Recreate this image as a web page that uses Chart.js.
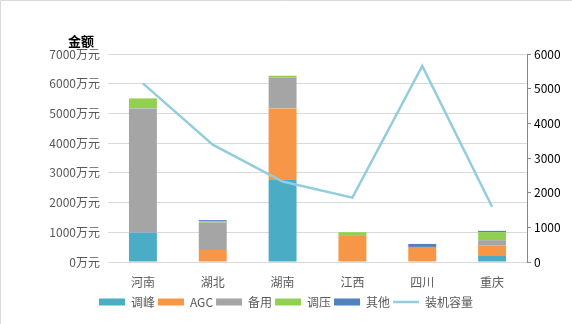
<!DOCTYPE html>
<html>
<head>
<meta charset="utf-8">
<script src="https://cdn.jsdelivr.net/npm/chart.js@4"></script>
<style>
  html, body { margin: 0; padding: 0; background: #fff; }
  #wrap { width: 572px; height: 324px; }
</style>
</head>
<body>
<div id="wrap"><canvas id="myChart1" width="572" height="324"></canvas></div>
<script>
// 지역
const regions = ['河南', '湖北', '湖南', '江西', '四川', '重庆'];

// 금액 (万元) - stacked
const tiaofeng = [990, 0, 2760, 0, 0, 226];
const agc      = [0, 405, 2410, 878, 507, 328];
const beiyong  = [4180, 926, 1043, 0, 0, 179];
const tiaoya   = [335, 34, 57, 125, 0, 270];
const qita     = [0, 44, 0, 0, 101, 44];

// 装机容量 (right axis)
const capacity = [5154, 3385, 2320, 1856, 5655, 1595];

const leftTicks = [0, 1000, 2000, 3000, 4000, 5000, 6000, 7000];
const rightTicks = [0, 1000, 2000, 3000, 4000, 5000, 6000];

const cjk = '"Noto Sans CJK SC", "Noto Sans", sans-serif';

// 배경 + 테두리 + 축 제목
const extras = {
    id: 'extras',
    beforeDraw(chart) {
        const c = chart.ctx;
        c.save();
        c.fillStyle = '#fff';
        c.fillRect(0, 0, chart.width, chart.height);
        c.strokeStyle = '#D9D9D9';
        c.lineWidth = 1;
        c.beginPath();
        c.moveTo(0.5, chart.height);
        c.lineTo(0.5, 0.5);
        c.lineTo(chart.width, 0.5);
        c.stroke();
        c.restore();
    },
    afterDraw(chart) {
        const c = chart.ctx;
        c.save();
        c.fillStyle = '#000';
        c.font = 'bold 13px ' + cjk;
        c.textAlign = 'center';
        c.textBaseline = 'middle';
        c.fillText('金额', 81, 41);
        c.restore();
    }
};

function barSet(label, data, color) {
    return {
        type: 'bar',
        label: label,
        data: data,
        backgroundColor: color,
        borderWidth: 0,
        yAxisID: 'y',
        stack: 's',
        order: 1,
        barPercentage: 0.4,
        categoryPercentage: 1.0
    };
}

const ctx = document.getElementById('myChart1').getContext('2d');

const config = {
    data: {
        labels: regions,
        datasets: [
            barSet('调峰', tiaofeng, '#4BACC6'),
            barSet('AGC', agc, '#F79646'),
            barSet('备用', beiyong, '#A5A5A5'),
            barSet('调压', tiaoya, '#92D050'),
            barSet('其他', qita, '#4F81BD'),
            {
                type: 'line',
                label: '装机容量',
                data: capacity,
                borderColor: '#93CDDD',
                backgroundColor: '#93CDDD',
                borderWidth: 2.5,
                pointRadius: 0,
                tension: 0,
                yAxisID: 'y1',
                order: 0
            }
        ]
    },
    options: {
        responsive: false,
        animation: false,
        layout: { padding: { left: 0, right: 0, top: 54, bottom: 6 } },
        plugins: {
            tooltip: { enabled: false },
            legend: {
                position: 'bottom',
                labels: {
                    usePointStyle: true,
                    pointStyleWidth: 26,
                    boxHeight: 7,
                    padding: 3,
                    color: '#595959',
                    font: { family: cjk, size: 12 },
                    sort: (a, b) => a.datasetIndex - b.datasetIndex,
                    generateLabels(chart) {
                        const items = Chart.defaults.plugins.legend.labels.generateLabels(chart);
                        items.forEach(it => {
                            const ds = chart.data.datasets[it.datasetIndex];
                            if (ds.type === 'line') {
                                it.pointStyle = 'line';
                                it.strokeStyle = ds.borderColor;
                                it.lineWidth = 2.5;
                            } else {
                                it.pointStyle = 'rect';
                                it.lineWidth = 0;
                            }
                        });
                        return items;
                    }
                }
            }
        },
        scales: {
            x: {
                stacked: true,
                grid: { display: false },
                border: { display: true, color: '#D9D9D9' },
                ticks: { color: '#595959', padding: 5, font: { family: cjk, size: 12 } },
                afterFit(scale) { scale.height = 31; }
            },
            y: {
                position: 'left',
                stacked: true,
                min: 0,
                max: 7000,
                afterBuildTicks(scale) { scale.ticks = leftTicks.map(v => ({ value: v })); },
                grid: { color: '#D9D9D9', drawTicks: false },
                border: { display: false },
                ticks: {
                    color: '#595959',
                    padding: 8,
                    font: { family: cjk, size: 12 },
                    callback: v => v + '万元'
                },
                afterFit(scale) { scale.width = 108; }
            },
            y1: {
                position: 'right',
                min: 0,
                max: 6000,
                afterBuildTicks(scale) { scale.ticks = rightTicks.map(v => ({ value: v })); },
                grid: { drawOnChartArea: false, drawTicks: true, tickLength: 4, color: '#868686' },
                border: { display: true, color: '#868686' },
                ticks: { color: '#000', padding: 3, font: { family: cjk, size: 12 }, callback: v => String(v) },
                afterFit(scale) { scale.width = 45; }
            }
        }
    },
    plugins: [extras]
};

const myChart1 = new Chart(ctx, config);
</script>
</body>
</html>
